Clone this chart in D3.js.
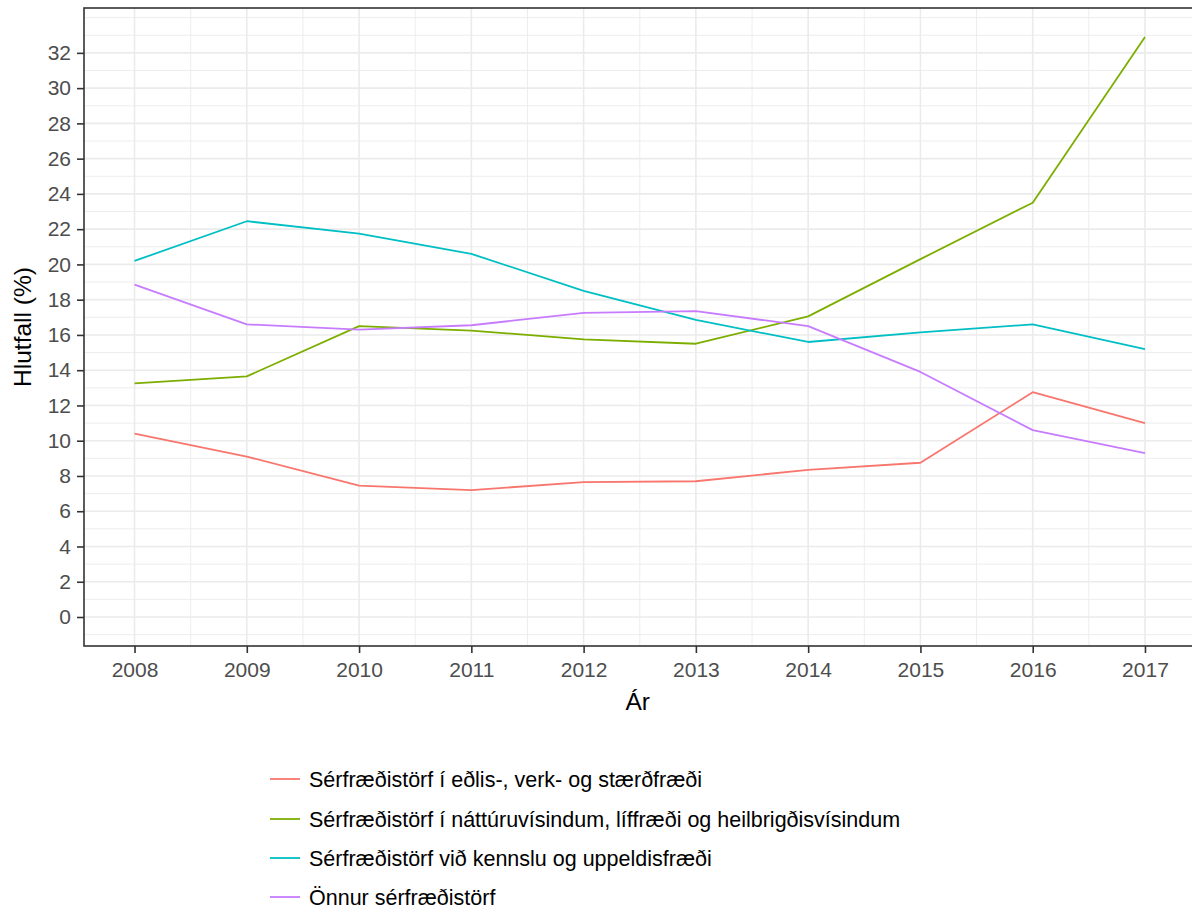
<!DOCTYPE html>
<html><head><meta charset="utf-8">
<script src="https://cdn.jsdelivr.net/npm/d3@7"></script>
<style>body{margin:0;background:#fff}svg{display:block}</style>
</head><body><svg id="c" width="1192" height="911"></svg>
<script>
const years = [2008,2009,2010,2011,2012,2013,2014,2015,2016,2017];
const seriesNames = [
  "Sérfræðistörf í eðlis-, verk- og stærðfræði",
  "Sérfræðistörf í náttúruvísindum, líffræði og heilbrigðisvísindum",
  "Sérfræðistörf við kennslu og uppeldisfræði",
  "Önnur sérfræðistörf"
];
const eðlis = [10.4, 9.1, 7.45, 7.2, 7.65, 7.7, 8.35, 8.75, 12.75, 11.0];
const náttúru = [13.25, 13.65, 16.5, 16.25, 15.75, 15.5, 17.05, 20.3, 23.5, 32.9];
const kennslu = [20.2, 22.45, 21.75, 20.6, 18.5, 16.85, 15.6, 16.15, 16.6, 15.2];
const önnur = [18.85, 16.6, 16.3, 16.55, 17.25, 17.35, 16.5, 13.9, 10.6, 9.3];
const seriesValues = [eðlis, náttúru, kennslu, önnur];
const colors = ["#F8766D", "#7CAE00", "#00BFC4", "#C77CFF"];
const yTicks = d3.range(0, 33, 2);
const yMinor = d3.range(-1, 34, 2).concat([34]);
const xMinor = d3.range(2008.5, 2017, 1);
const xTitle = "Ár", yTitle = "Hlutfall (%)";

const svg = d3.select("#c");
const L = 84, R = 1195.5, T = 8, B = 646;
const x = d3.scaleLinear().domain([2007.55, 2017.45]).range([L, R]);
const y = d3.scaleLinear().domain([-1.645, 34.545]).range([B, T]);
const font = "Arial, 'Liberation Sans', sans-serif";

const g = svg.append("g");
g.selectAll(".ym").data(yMinor).join("line")
  .attr("x1", L).attr("x2", R).attr("y1", d => y(d)).attr("y2", d => y(d))
  .attr("stroke", "#EBEBEB").attr("stroke-width", 0.9);
g.selectAll(".xm").data(xMinor).join("line")
  .attr("y1", T).attr("y2", B).attr("x1", d => x(d)).attr("x2", d => x(d))
  .attr("stroke", "#EBEBEB").attr("stroke-width", 0.9);
g.selectAll(".yM").data(yTicks).join("line")
  .attr("x1", L).attr("x2", R).attr("y1", d => y(d)).attr("y2", d => y(d))
  .attr("stroke", "#EBEBEB").attr("stroke-width", 1.6);
g.selectAll(".xM").data(years).join("line")
  .attr("y1", T).attr("y2", B).attr("x1", d => x(d)).attr("x2", d => x(d))
  .attr("stroke", "#EBEBEB").attr("stroke-width", 1.6);

const line = d3.line().x((d, i) => x(years[i])).y(d => y(d));
seriesValues.forEach((vals, k) => {
  svg.append("path").datum(vals).attr("d", line)
    .attr("fill", "none").attr("stroke", colors[k]).attr("stroke-width", 1.8)
    .attr("stroke-linejoin", "round");
});

svg.append("rect").attr("x", L).attr("y", T).attr("width", R - L).attr("height", B - T)
  .attr("fill", "none").attr("stroke", "#333333").attr("stroke-width", 1.6);

const xAxis = svg.append("g").attr("transform", `translate(0,${B})`)
  .call(d3.axisBottom(x).tickValues(years).tickFormat(d3.format("d")).tickSize(7).tickPadding(5));
const yAxis = svg.append("g").attr("transform", `translate(${L},0)`)
  .call(d3.axisLeft(y).tickValues(yTicks).tickSize(7).tickPadding(6));
[xAxis, yAxis].forEach(a => {
  a.select(".domain").remove();
  a.selectAll(".tick line").attr("stroke", "#333333").attr("stroke-width", 1.6);
  a.selectAll(".tick text").attr("fill", "#4D4D4D").style("font-family", font).style("font-size", "21px");
});
xAxis.selectAll(".tick text").attr("dy", "0.9em");

svg.append("text").attr("x", (L + R) / 2 - 2).attr("y", 710).attr("text-anchor", "middle")
  .style("font-family", font).style("font-size", "24.5px").attr("fill", "#000").text(xTitle);
svg.append("text").attr("transform", `translate(31,${(T + B) / 2}) rotate(-90)`)
  .attr("text-anchor", "middle").style("font-family", font).style("font-size", "24.5px")
  .attr("fill", "#000").text(yTitle);

const legY = [779, 819, 858, 897];
seriesNames.forEach((name, k) => {
  svg.append("line").attr("x1", 270).attr("x2", 300).attr("y1", legY[k]).attr("y2", legY[k])
    .attr("stroke", colors[k]).attr("stroke-width", 1.8);
  svg.append("text").attr("x", 309).attr("y", legY[k]).attr("dy", "0.35em")
    .style("font-family", font).style("font-size", "21.5px").attr("fill", "#000").text(name);
});
</script></body></html>
